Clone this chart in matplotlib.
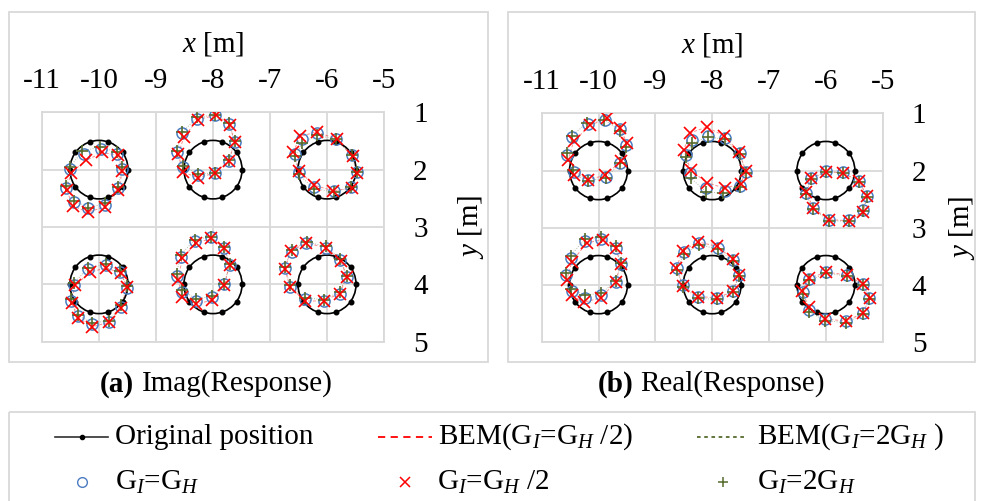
import matplotlib.pyplot as plt
from matplotlib.patches import Rectangle, Circle
import numpy as np

plt.rcParams['font.family'] = ['Liberation Serif', 'DejaVu Serif']
plt.rcParams['mathtext.fontset'] = 'custom'
plt.rcParams['mathtext.rm'] = 'Liberation Serif'
plt.rcParams['mathtext.it'] = 'Liberation Serif:italic'
plt.rcParams['mathtext.bf'] = 'Liberation Serif:bold'
plt.rcParams['axes.unicode_minus'] = False

# undeformed rings: 10 nodes each, 36 degrees apart
centres = [(-10, 2), (-8, 2), (-6, 2), (-10, 4), (-8, 4), (-6, 4)]
radius = 0.51
node_angles = [0, 36, 72, 108, 144, 180, 216, 252, 288, 324]

x_ticks = [-11, -10, -9, -8, -7, -6, -5]
y_ticks = [1, 2, 3, 4, 5]

# node positions of the response, (dx, dy) in m from each ring centre
imag_gh = [
    [(-0.51, -0.02), (-0.58, 0.32), (-0.44, 0.57), (-0.20, 0.67), (0.11, 0.62), (0.33, 0.32), (0.41, -0.02), (0.31, -0.28), (0.03, -0.36), (-0.27, -0.27)],
    [(-0.53, -0.05), (-0.63, -0.31), (-0.54, -0.64), (-0.28, -0.89), (0.03, -0.95), (0.28, -0.79), (0.38, -0.48), (0.28, -0.15), (0.03, 0.06), (-0.26, 0.10)],
    [(-0.50, 0.04), (-0.57, -0.28), (-0.44, -0.53), (-0.18, -0.64), (0.16, -0.54), (0.43, -0.25), (0.53, 0.04), (0.42, 0.31), (0.12, 0.37), (-0.23, 0.31)],
    [(-0.44, 0.01), (-0.50, 0.29), (-0.37, 0.56), (-0.12, 0.70), (0.18, 0.66), (0.39, 0.39), (0.49, 0.06), (0.37, -0.21), (0.12, -0.33), (-0.19, -0.27)],
    [(-0.54, 0.13), (-0.64, -0.15), (-0.57, -0.48), (-0.32, -0.76), (-0.03, -0.82), (0.20, -0.64), (0.29, -0.34), (0.20, 0.00), (-0.01, 0.22), (-0.29, 0.29)],
    [(-0.65, 0.04), (-0.74, -0.28), (-0.62, -0.57), (-0.36, -0.72), (-0.02, -0.64), (0.23, -0.42), (0.35, -0.13), (0.22, 0.16), (-0.06, 0.29), (-0.39, 0.26)],
]
imag_half = [
    [(-0.49, 0.05), (-0.57, 0.35), (-0.46, 0.63), (-0.20, 0.74), (0.11, 0.65), (0.34, 0.36), (0.41, 0.02), (0.33, -0.25), (0.06, -0.30), (-0.23, -0.16)],
    [(-0.53, 0.04), (-0.61, -0.27), (-0.51, -0.57), (-0.27, -0.87), (0.05, -0.95), (0.29, -0.78), (0.38, -0.49), (0.28, -0.15), (0.03, 0.06), (-0.27, 0.14)],
    [(-0.49, 0.02), (-0.59, -0.31), (-0.47, -0.58), (-0.18, -0.66), (0.17, -0.53), (0.45, -0.23), (0.53, 0.06), (0.43, 0.32), (0.11, 0.37), (-0.23, 0.27)],
    [(-0.42, 0.02), (-0.48, 0.32), (-0.37, 0.59), (-0.12, 0.74), (0.18, 0.66), (0.39, 0.41), (0.49, 0.04), (0.38, -0.19), (0.13, -0.29), (-0.16, -0.21)],
    [(-0.54, 0.22), (-0.61, -0.08), (-0.54, -0.46), (-0.29, -0.72), (-0.03, -0.80), (0.20, -0.64), (0.29, -0.34), (0.20, 0.01), (-0.01, 0.27), (-0.30, 0.35)],
    [(-0.65, 0.04), (-0.74, -0.27), (-0.64, -0.58), (-0.36, -0.72), (-0.02, -0.64), (0.24, -0.41), (0.35, -0.13), (0.22, 0.16), (-0.06, 0.29), (-0.39, 0.29)],
]
imag_double = [
    [(-0.51, -0.05), (-0.58, 0.28), (-0.44, 0.54), (-0.19, 0.66), (0.11, 0.59), (0.33, 0.30), (0.41, -0.04), (0.31, -0.30), (0.02, -0.40), (-0.29, -0.32)],
    [(-0.53, -0.06), (-0.63, -0.33), (-0.54, -0.65), (-0.28, -0.91), (0.03, -0.96), (0.28, -0.81), (0.38, -0.50), (0.28, -0.16), (0.03, 0.05), (-0.26, 0.08)],
    [(-0.50, 0.08), (-0.56, -0.23), (-0.43, -0.47), (-0.17, -0.60), (0.16, -0.53), (0.43, -0.25), (0.53, 0.04), (0.42, 0.31), (0.12, 0.39), (-0.23, 0.33)],
    [(-0.44, -0.02), (-0.50, 0.26), (-0.37, 0.54), (-0.12, 0.67), (0.18, 0.64), (0.39, 0.36), (0.49, 0.03), (0.37, -0.23), (0.12, -0.35), (-0.19, -0.29)],
    [(-0.54, 0.10), (-0.64, -0.18), (-0.57, -0.51), (-0.32, -0.78), (-0.03, -0.83), (0.20, -0.65), (0.29, -0.35), (0.20, -0.01), (-0.01, 0.20), (-0.29, 0.26)],
    [(-0.65, 0.02), (-0.74, -0.31), (-0.62, -0.60), (-0.35, -0.74), (-0.02, -0.66), (0.23, -0.44), (0.35, -0.15), (0.22, 0.13), (-0.06, 0.27), (-0.39, 0.23)],
]
real_gh = [
    [(-0.44, 0.02), (-0.55, -0.28), (-0.47, -0.59), (-0.19, -0.82), (0.12, -0.89), (0.38, -0.72), (0.49, -0.45), (0.38, -0.14), (0.13, 0.11), (-0.18, 0.16)],
    [(-0.39, 0.05), (-0.46, -0.28), (-0.36, -0.54), (-0.07, -0.61), (0.22, -0.57), (0.49, -0.30), (0.59, 0.02), (0.49, 0.27), (0.22, 0.35), (-0.11, 0.31)],
    [(-0.26, 0.13), (-0.35, 0.39), (-0.23, 0.66), (0.06, 0.86), (0.40, 0.87), (0.66, 0.69), (0.72, 0.45), (0.59, 0.18), (0.30, 0.02), (0.00, 0.00)],
    [(-0.47, 0.12), (-0.57, -0.17), (-0.49, -0.47), (-0.24, -0.77), (0.05, -0.80), (0.30, -0.65), (0.40, -0.36), (0.30, -0.04), (0.05, 0.18), (-0.24, 0.23)],
    [(-0.51, 0.01), (-0.62, -0.30), (-0.50, -0.57), (-0.23, -0.73), (0.11, -0.65), (0.36, -0.43), (0.47, -0.17), (0.36, 0.11), (0.09, 0.23), (-0.25, 0.21)],
    [(-0.40, 0.13), (-0.29, -0.10), (0.01, -0.22), (0.37, -0.17), (0.65, -0.01), (0.76, 0.23), (0.65, 0.49), (0.36, 0.64), (-0.01, 0.60), (-0.29, 0.45)],
]
real_half = [
    [(-0.44, 0.08), (-0.53, -0.19), (-0.44, -0.51), (-0.15, -0.79), (0.15, -0.92), (0.38, -0.74), (0.50, -0.48), (0.39, -0.16), (0.12, 0.08), (-0.18, 0.16)],
    [(-0.38, -0.01), (-0.50, -0.36), (-0.39, -0.66), (-0.10, -0.76), (0.21, -0.61), (0.47, -0.33), (0.59, 0.00), (0.50, 0.23), (0.22, 0.31), (-0.10, 0.21)],
    [(-0.26, 0.13), (-0.35, 0.37), (-0.22, 0.66), (0.06, 0.86), (0.40, 0.88), (0.66, 0.72), (0.72, 0.45), (0.59, 0.19), (0.30, 0.04), (0.00, 0.02)],
    [(-0.47, 0.18), (-0.56, -0.08), (-0.47, -0.40), (-0.21, -0.73), (0.07, -0.79), (0.30, -0.65), (0.39, -0.36), (0.30, -0.04), (0.04, 0.23), (-0.26, 0.31)],
    [(-0.52, 0.02), (-0.63, -0.30), (-0.52, -0.59), (-0.25, -0.75), (0.09, -0.67), (0.36, -0.45), (0.47, -0.17), (0.36, 0.12), (0.09, 0.23), (-0.25, 0.21)],
    [(-0.42, 0.12), (-0.30, -0.11), (0.01, -0.22), (0.37, -0.17), (0.65, -0.01), (0.77, 0.23), (0.66, 0.49), (0.36, 0.64), (-0.01, 0.60), (-0.30, 0.39)],
]
real_double = [
    [(-0.45, -0.01), (-0.56, -0.30), (-0.47, -0.61), (-0.21, -0.83), (0.10, -0.89), (0.38, -0.70), (0.49, -0.42), (0.38, -0.13), (0.13, 0.13), (-0.18, 0.18)],
    [(-0.38, 0.13), (-0.46, -0.23), (-0.36, -0.48), (-0.07, -0.59), (0.22, -0.55), (0.49, -0.29), (0.59, 0.04), (0.49, 0.29), (0.19, 0.40), (-0.11, 0.37)],
    [(-0.26, 0.15), (-0.35, 0.41), (-0.23, 0.68), (0.06, 0.88), (0.40, 0.89), (0.66, 0.71), (0.72, 0.47), (0.59, 0.20), (0.30, 0.04), (0.00, 0.02)],
    [(-0.49, 0.08), (-0.57, -0.20), (-0.49, -0.51), (-0.24, -0.80), (0.05, -0.83), (0.30, -0.67), (0.40, -0.38), (0.30, -0.06), (0.05, 0.15), (-0.24, 0.18)],
    [(-0.51, 0.04), (-0.62, -0.26), (-0.50, -0.54), (-0.23, -0.70), (0.11, -0.62), (0.36, -0.41), (0.47, -0.15), (0.36, 0.13), (0.09, 0.26), (-0.25, 0.24)],
    [(-0.40, 0.16), (-0.29, -0.08), (0.01, -0.20), (0.37, -0.15), (0.65, 0.01), (0.76, 0.25), (0.65, 0.51), (0.36, 0.67), (-0.01, 0.63), (-0.29, 0.48)],
]

C_BLUE = '#4A7CC0'
C_RED = '#FF0000'
C_GREEN = '#566B2C'
GRID = '#D9D9D9'
FS = 21

W, H = 981, 501
fig = plt.figure(figsize=(W / 100, H / 100), dpi=100)


def box(px, py, w, h):
    # pixel box -> figure fraction
    return [px / W, 1 - (py + h) / H, w / W, h / H]


def ring(c, offs):
    xy = np.array(offs, dtype=float) + np.array(c, dtype=float)
    xy = np.vstack([xy, xy[:1]])
    return xy[:, 0], xy[:, 1]


def draw_panel(ax, gh, half, double, ylabelpad):
    a = np.radians(node_angles)
    for c, g, hf, d in zip(centres, gh, half, double):
        # smooth ring line plus its nodes
        ax.add_patch(Circle(c, radius, fill=False, ec='black', lw=1.2, zorder=3))
        ax.plot(c[0] + radius * np.cos(a), c[1] + radius * np.sin(a), 'o',
                color='black', ms=3.3, zorder=3)
        hx, hy = ring(c, hf)
        ax.plot(hx, hy, color=C_RED, lw=0.7, alpha=0.45, dashes=(3, 2), zorder=2)
        dx, dy = ring(c, d)
        ax.plot(dx, dy, color='#8A9070', lw=0.7, alpha=0.6, ls=(0, (1, 1.5)), zorder=2)
        gx, gy = ring(c, g)
        ax.plot(gx[:-1], gy[:-1], 'o', mfc='none', mec=C_BLUE, mew=1.1, ms=8, zorder=4)
        ax.plot(dx[:-1], dy[:-1], '+', color=C_GREEN, mew=1.2, ms=9, zorder=5)
        ax.plot(hx[:-1], hy[:-1], 'x', color=C_RED, mew=1.2, ms=8.5, zorder=6)

    ax.set_xlim(-11, -5)
    ax.set_ylim(5, 1)
    ax.set_xticks(x_ticks)
    ax.set_xticklabels([str(v) for v in x_ticks])
    ax.set_yticks(y_ticks)
    ax.set_yticklabels([str(v) for v in y_ticks])
    ax.xaxis.tick_top()
    ax.yaxis.tick_right()
    ax.tick_params(length=0, labelsize=FS)
    ax.tick_params(axis='x', pad=13)
    ax.tick_params(axis='y', pad=21)
    ax.grid(True, color=GRID, lw=1.3)
    ax.set_axisbelow(True)
    for s in ax.spines.values():
        s.set_color(GRID)
        s.set_linewidth(1.3)
    ax.xaxis.set_label_position('top')
    ax.yaxis.set_label_position('right')
    ax.set_xlabel(r'$x$ [m]', fontsize=FS, labelpad=12)
    ax.set_ylabel(r'$y$ [m]', fontsize=FS, labelpad=ylabelpad)


axL = fig.add_axes(box(42, 112.3, 342, 229.4))
axR = fig.add_axes(box(541.7, 113.5, 341, 228.2))
draw_panel(axL, imag_gh, imag_half, imag_double, 20)
draw_panel(axR, real_gh, real_half, real_double, 15)

# frames, captions and legend drawn in pixel space
ov = fig.add_axes([0, 0, 1, 1])
ov.set_xlim(0, W)
ov.set_ylim(H, 0)
ov.axis('off')
for r in [(9, 12, 479, 350), (508, 12, 467, 350), (9, 412, 966, 95)]:
    ov.add_patch(Rectangle(r[:2], r[2], r[3], fill=False, ec=GRID, lw=1.3))

ov.text(100, 384, '(a)', fontsize=FS, fontweight='bold', va='center', ha='left')
ov.text(142, 384, 'Imag(Response)', fontsize=FS, va='center', ha='left')
ov.text(598, 384, '(b)', fontsize=FS, fontweight='bold', va='center', ha='left')
ov.text(640, 384, 'Real(Response)', fontsize=FS, va='center', ha='left')

r1, r2 = 437, 482
ov.plot([55, 108], [r1, r1], color='#303030', lw=1.2)
ov.plot([82], [r1], 'o', color='black', ms=3)
ov.text(115, r1, 'Original position', fontsize=FS, va='center')
ov.plot([378, 432], [r1, r1], color=C_RED, lw=1.3, dashes=(4, 3))
ov.text(438, r1, r'BEM(G$_{I}$=G$_{H}$ /2)', fontsize=FS, va='center')
ov.plot([697, 747], [r1, r1], color=C_GREEN, lw=1.3, ls=(0, (2, 2)))
ov.text(757, r1, r'BEM(G$_{I}$=2G$_{H}$ )', fontsize=FS, va='center')

ov.plot([82], [r2], 'o', mfc='none', mec=C_BLUE, mew=1.0, ms=7)
ov.text(115, r2, r'G$_{I}$=G$_{H}$', fontsize=FS, va='center')
ov.plot([405], [r2], 'x', color=C_RED, mew=1.1, ms=7)
ov.text(437, r2, r'G$_{I}$=G$_{H}$ /2', fontsize=FS, va='center')
ov.plot([723], [r2], '+', color=C_GREEN, mew=1.1, ms=7)
ov.text(757, r2, r'G$_{I}$=2G$_{H}$', fontsize=FS, va='center')

fig.savefig('out.png', dpi=100)
